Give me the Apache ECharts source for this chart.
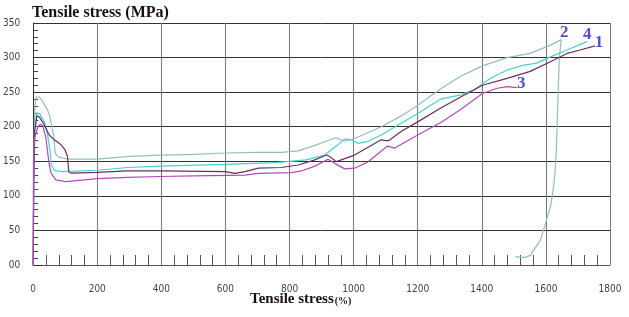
<!DOCTYPE html>
<html>
<head>
<meta charset="utf-8">
<script src="https://cdn.jsdelivr.net/npm/echarts@6/dist/echarts.min.js"></script>
<style>
html,body{margin:0;padding:0;background:#fff;}
#main{width:629px;height:317px;}
</style>
</head>
<body>
<div id="main"></div>
<script>
// strain (%) / stress (MPa) pairs
var curve1 = [[0,0],[2,130],[5,195],[12,216],[20,213.6],[35,202.5],[50,188],[66,181],[87,174],[100,166],[107,157],[111,135],[118,133],[200,134],[206,136],[294,136],[400,136],[599,135],[630,132.6],[661,135],[703,140],[775,141],[827,144.6],[879,152],[915,159],[925,157],[946,149.5],[961,152],[1003,159],[1086,181],[1100,180],[1110,180],[1148,193],[1200,207],[1272,227],[1334,243],[1402,260],[1479,270],[1551,280],[1614,294],[1666,306],[1707,311],[1753,317]];
var curve2 = [[0,0],[2,150],[5,225],[9,243],[18,243],[25,240],[35,232],[45,224],[52,215],[58,200],[64,188],[68,164],[72,159],[80,156],[108,153],[200,153],[300,157],[400,159],[500,160],[600,162],[700,163],[775,163],[827,165],[879,173],[920,180],[945,184],[961,181],[975,179],[1003,183],[1086,200],[1150,216],[1200,231],[1272,255],[1334,273],[1402,288],[1479,300],[1551,306],[1614,318],[1648,326],[1642,300],[1638,250],[1635,200],[1632,160],[1628,130],[1620,100],[1614,84],[1603,67],[1583,36],[1560,20],[1552,14],[1535,11],[1520,11],[1505,12]];
var curve3 = [[0,0],[1,150],[5,185],[15,200],[23,203.5],[30,201.5],[40,183],[45,164],[50,145],[56,132.6],[71,123],[102,120.5],[159,123],[200,125],[294,126.8],[397,128],[500,129],[661,130],[703,132.6],[806,133.5],[837,136],[879,143],[920,153],[941,147],[972,139],[1003,140],[1044,149],[1106,172],[1127,169],[1200,188],[1272,206],[1334,225],[1402,248],[1448,255.6],[1479,258],[1510,256.5]];
var curve4 = [[0,0],[2,120],[5,200],[11,220],[20,219],[35,207],[45,188],[53,164],[56,145],[66,137],[87,135],[200,137],[294,141],[400,143],[600,145.5],[754,148],[800,150],[852,152],[910,159],[951,174],[972,182],[993,181],[1013,176],[1040,178],[1086,188],[1148,205],[1200,219],[1272,240],[1334,246],[1375,253],[1427,270],[1479,282],[1531,289],[1572,292],[1614,301],[1666,311],[1728,323]];

var tagNames = ['2','4','1','3'];
var tagX = [1657,1729,1766,1523];
var tagY = [336,333,322,263];

var yTickText = {0:'00',50:'50',100:'100',150:'150',200:'200',250:'250',300:'300',350:'350'};

var chart = echarts.init(document.getElementById('main'));
var serif = "'Liberation Serif','Times New Roman',serif";
var narrow = "'Liberation Sans Narrow','DejaVu Sans Condensed','Liberation Sans',sans-serif";

function curve(data, color){
  return {type:'line', data:data, showSymbol:false, symbol:'none', smooth:false,
    lineStyle:{color:color, width:1.2}, itemStyle:{color:color}, animation:false, z:3};
}

var option = {
  animation:false,
  backgroundColor:'#fff',
  title:[
    {text:'Tensile stress (MPa)', left:27, top:0,
     textStyle:{fontFamily:serif, fontSize:16, fontWeight:'bold', color:'#1a1010'}},
    {text:'{a|Tensile stress}{b|(%)}', left:245, top:287,
     textStyle:{rich:{
       a:{fontFamily:serif, fontSize:15, fontWeight:'bold', color:'#1a1010'},
       b:{fontFamily:serif, fontSize:10, fontWeight:'bold', color:'#1a1010', padding:[4,0,0,1]}
     }}}
  ],
  grid:{left:30, right:19, top:23, bottom:52, containLabel:false},
  xAxis:{
    type:'value', min:0, max:1800, interval:200, offset:15,
    axisLine:{show:true, lineStyle:{color:'#555', width:1}},
    axisTick:{show:true, inside:true, length:15, lineStyle:{color:'#777', width:1}},
    minorTick:{show:true, splitNumber:5, length:10, lineStyle:{color:'#555', width:1}},
    axisLabel:{fontFamily:narrow, fontSize:10, color:'#444', margin:4,
      formatter:function(v){ return String(v); }},
    splitLine:{show:true, lineStyle:{color:'#777', width:1}}
  },
  yAxis:{
    type:'value', min:0, max:350, interval:50, offset:9,
    axisLine:{show:true, lineStyle:{color:'#333', width:1}},
    axisTick:{show:true, inside:true, length:9, lineStyle:{color:'#333', width:1}},
    minorTick:{show:true, splitNumber:5, length:5, lineStyle:{color:'#444', width:1}},
    axisLabel:{fontFamily:narrow, fontSize:10, color:'#444', margin:4,
      formatter:function(v){ return yTickText[v] !== undefined ? yTickText[v] : String(v); }},
    splitLine:{show:true, lineStyle:{color:'#333', width:1}}
  },
  series:[
    curve(curve2, '#94beb8'),
    curve(curve4, '#45d2cf'),
    curve(curve1, '#6b2f5f'),
    curve(curve3, '#b24ab4'),
    {type:'scatter', symbolSize:1, itemStyle:{color:'rgba(0,0,0,0)'}, z:5, silent:true,
     data:tagNames.map(function(n,i){ return {name:n, value:[tagX[i], tagY[i]]}; }),
     label:{show:true, position:'inside', formatter:'{b}',
       fontFamily:serif, fontSize:17, fontWeight:'bold', color:'#1f24c4'}}
  ]
};
chart.setOption(option);
</script>
</body>
</html>
